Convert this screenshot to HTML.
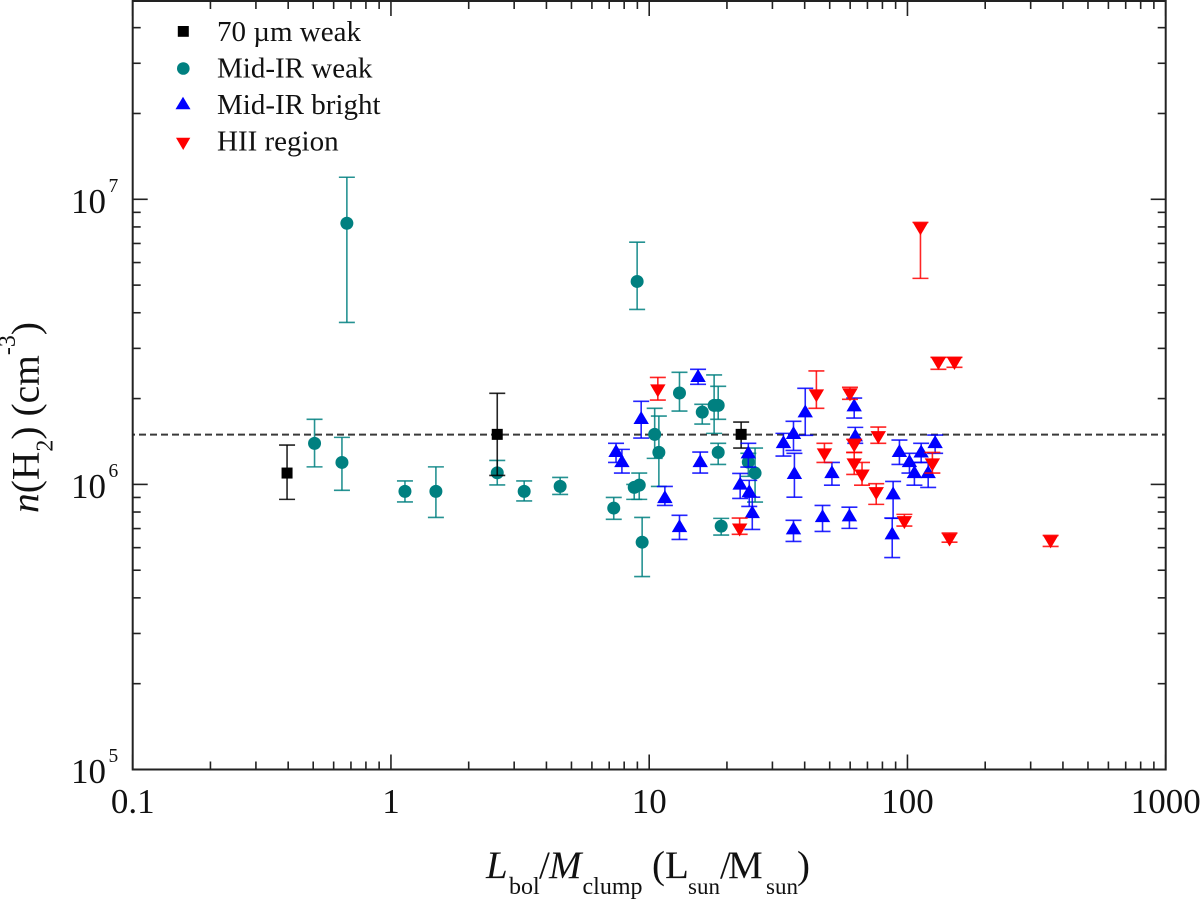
<!DOCTYPE html>
<html lang="en">
<head>
<meta charset="utf-8">
<title>Clump density versus luminosity-to-mass ratio</title>
<style>
  html, body { margin: 0; padding: 0; background: #fff; }
  svg { display: block; filter: blur(0.35px); }
  text { font-family: "Liberation Serif", serif; fill: #111; }
</style>
</head>
<body>
<svg id="chart" xmlns="http://www.w3.org/2000/svg" width="1200" height="899" viewBox="0 0 1200 899">
  <rect x="0" y="0" width="1200" height="899" fill="#fff"/>
  <g id="reference-layer"></g>
  <g id="series-layer"></g>
  <g id="axis-layer"></g>
  <rect x="132.7" y="1" width="1033" height="768.5" fill="none" stroke="#222" stroke-width="2"/>

  <g>
    <g>
      <rect x="177.8" y="26" width="11" height="10.8" fill="#000"/>
      <text x="217" y="41" font-size="29">70 µm weak</text>
    </g>
    <g>
      <circle cx="183.3" cy="68.5" r="6.3" fill="#008080"/>
      <text x="217" y="77.7" font-size="29">Mid-IR weak</text>
    </g>
    <g>
      <polygon points="183,96.7 190.5,109.3 175.5,109.3" fill="#0000ff"/>
      <text x="217" y="114" font-size="29">Mid-IR bright</text>
    </g>
    <g>
      <polygon points="176,137.7 190.3,137.7 183.2,150" fill="#ff0000"/>
      <text x="217" y="150.7" font-size="29">HII region</text>
    </g>
  </g>

  <text y="878" font-size="39"><tspan x="486" font-style="italic">L</tspan><tspan x="509" y="894" font-size="24">bol</tspan><tspan x="539" y="878">/</tspan><tspan x="549" font-style="italic">M</tspan><tspan x="582.5" y="894" font-size="24">clump</tspan><tspan x="652" y="878">(</tspan><tspan x="665">L</tspan><tspan x="688" y="894" font-size="23">sun</tspan><tspan x="720" y="878">/</tspan><tspan x="728">M</tspan><tspan x="766" y="894" font-size="23">sun</tspan><tspan x="797" y="878">)</tspan></text>

  <text transform="translate(38.5 513) rotate(-90)" x="0" y="0" font-size="39.5"><tspan font-style="italic">n</tspan>(H<tspan font-size="24" dy="14">2</tspan><tspan dy="-14">) (cm</tspan><tspan font-size="24" dy="-23.5">-3</tspan><tspan dy="23.5">)</tspan></text>
</svg>

<script>
// Axis definitions
const xMajorTicks = [0.1, 1, 10, 100, 1000];
const xTickLabels = ['0.1', '1', '10', '100', '1000'];
const yMajorExponents = [5, 6, 7];
const referenceDensity = 1.5; // 10^6 cm^-3

// 70 um weak: L/M, n(H2) in 10^6 cm^-3, lower and upper error-bar ends
const weak70X = [0.396, 2.58, 22.7];
const weak70Y = [1.096, 1.498, 1.498];
const weak70Low = [0.886, 1.075, 1.341];
const weak70High = [1.374, 2.087, 1.654];

// Mid-IR weak
const midWeakX = [0.506, 0.646, 0.675, 1.133, 1.493, 2.58, 3.28, 4.52, 7.29, 8.75, 9.15, 8.98, 9.39, 10.5, 10.9, 13.1, 16.05, 17.84, 18.5, 18.5, 19.0, 24.2, 25.7];
const midWeakY = [1.393, 1.194, 8.24, 0.945, 0.945, 1.098, 0.945, 0.984, 0.826, 0.976, 0.994, 5.15, 0.627, 1.498, 1.295, 2.092, 1.793, 1.893, 1.893, 1.295, 0.714, 1.197, 1.096];
const midWeakLow = [1.152, 0.953, 3.70, 0.868, 0.766, 0.996, 0.875, 0.922, 0.754, 0.886, 0.886, 4.11, 0.475, 1.234, 0.984, 1.808, 1.628, 1.510, 1.691, 1.175, 0.664, 1.067, 0.867];
const midWeakHigh = [1.691, 1.462, 11.95, 1.028, 1.152, 1.214, 1.028, 1.058, 0.900, 1.000, 1.096, 7.07, 0.766, 1.849, 1.736, 2.472, 1.909, 2.42, 2.208, 1.393, 0.760, 1.285, 1.341];

// Mid-IR bright
const midBrightX = [9.31, 7.44, 7.84, 11.5, 13.1, 15.46, 15.76, 24.2, 22.5, 24.4, 25.07, 33.1, 36.2, 36.5, 36.2, 40.2, 46.9, 51.0, 59.6, 62.2, 62.8, 88.0, 87.3, 93.1, 101.8, 106.4, 113, 120.3, 128];
const midBrightY = [1.709, 1.309, 1.207, 0.902, 0.714, 2.40, 1.207, 1.295, 1.006, 0.947, 0.799, 1.407, 1.514, 1.096, 0.701, 1.803, 0.774, 1.104, 0.779, 1.893, 1.486, 0.930, 0.673, 1.309, 1.207, 1.104, 1.305, 1.104, 1.407];
const midBrightLow = [1.454, 1.194, 1.096, 0.844, 0.641, 2.244, 1.096, 1.150, 0.893, 0.837, 0.695, 1.257, 1.316, 0.902, 0.631, 1.486, 0.684, 0.994, 0.701, 1.709, 1.393, 0.760, 0.554, 1.175, 1.096, 0.994, 1.194, 0.976, 1.285];
const midBrightHigh = [1.956, 1.393, 1.327, 0.984, 0.779, 2.534, 1.298, 1.393, 1.093, 1.033, 0.902, 1.510, 1.664, 1.285, 0.748, 2.172, 0.844, 1.194, 0.832, 2.009, 1.585, 1.024, 0.762, 1.431, 1.285, 1.194, 1.393, 1.194, 1.489];

// HII region
const hiiX = [10.8, 22.4, 44.4, 59.9, 47.7, 62.2, 62.2, 66.7, 77.1, 75.7, 97.3, 124.9, 131.8, 152.1, 145.5, 112.3, 358.4];
const hiiY = [2.138, 0.695, 2.053, 2.070, 1.274, 1.370, 1.175, 1.075, 1.465, 0.932, 0.737, 1.175, 2.666, 2.666, 0.641, 7.91, 0.631];
const hiiLow = [1.976, 0.668, 1.849, 1.988, 1.194, 1.295, 1.084, 0.994, 1.393, 0.851, 0.714, 1.096, 2.534, 2.575, 0.627, 5.28, 0.606];
const hiiHigh = [2.372, 0.762, 2.500, 2.190, 1.393, 1.439, 1.295, 1.194, 1.589, 1.006, 0.785, 1.295, 2.79, 2.79, 0.675, 8.30, 0.662];

const SVG_NS = 'http://www.w3.org/2000/svg';
const PLOT_LEFT = 132.7;
const PLOT_RIGHT = 1165.7;
const PLOT_BOTTOM = 769.5;
const PLOT_TOP = 1;
const X_DECADE = 258.25;
const Y_DECADE = 285.1;

// Axis functions: x in L/M units, y in 10^6 cm^-3
function xScale(v) {
  return PLOT_LEFT + (Math.log10(v) + 1) * X_DECADE;
}
function yScale(v) {
  return PLOT_BOTTOM - (Math.log10(v) + 1) * Y_DECADE;
}

const axisLayer = document.getElementById('axis-layer');
const seriesLayer = document.getElementById('series-layer');
const referenceLayer = document.getElementById('reference-layer');

function addLine(parent, x1, y1, x2, y2, stroke, width) {
  const el = document.createElementNS(SVG_NS, 'line');
  el.setAttribute('x1', x1);
  el.setAttribute('y1', y1);
  el.setAttribute('x2', x2);
  el.setAttribute('y2', y2);
  el.setAttribute('stroke', stroke);
  el.setAttribute('stroke-width', width);
  parent.appendChild(el);
  return el;
}

// X ticks (bottom and top, pointing inward)
for (let decade = 0; decade < xMajorTicks.length; decade++) {
  const base = xMajorTicks[decade];
  for (let m = 1; m <= 9; m++) {
    if (decade === xMajorTicks.length - 1 && m > 1) break;
    const px = xScale(base * m);
    const len = m === 1 ? 15 : 8;
    const bottomTick = addLine(axisLayer, px, PLOT_BOTTOM, px, PLOT_BOTTOM - len, '#222', 1.6);
    
    
    const topTick = addLine(axisLayer, px, PLOT_TOP, px, PLOT_TOP + len, '#222', 1.6);
    
    
  }
  const label = document.createElementNS(SVG_NS, 'text');
  
  
  label.setAttribute('x', xScale(base));
  label.setAttribute('y', 813);
  label.setAttribute('font-size', '35');
  label.setAttribute('text-anchor', 'middle');
  label.textContent = xTickLabels[decade];
  axisLayer.appendChild(label);
}

// Y ticks (left and right, pointing inward); range 1e5 to 5e7
for (let i = 0; i < yMajorExponents.length; i++) {
  const exponent = yMajorExponents[i];
  const unit = Math.pow(10, exponent - 6);
  for (let m = 1; m <= 9; m++) {
    const value = unit * m;
    if (value > 50) break;
    const py = yScale(value);
    const len = m === 1 ? 15 : 8;
    const leftTick = addLine(axisLayer, PLOT_LEFT, py, PLOT_LEFT + len, py, '#222', 1.6);
    
    
    const rightTick = addLine(axisLayer, PLOT_RIGHT, py, PLOT_RIGHT - len, py, '#222', 1.6);
    
    
  }
  const py = yScale(unit);
  const label = document.createElementNS(SVG_NS, 'text');
  
  
  label.setAttribute('x', 71);
  label.setAttribute('y', py + 13.7);
  label.setAttribute('font-size', '35');
  const mantissa = document.createElementNS(SVG_NS, 'tspan');
  mantissa.textContent = '10';
  label.appendChild(mantissa);
  const power = document.createElementNS(SVG_NS, 'tspan');
  power.setAttribute('font-size', '19.5');
  power.setAttribute('dy', '-21');
  power.setAttribute('dx', '2.5');
  power.textContent = String(exponent);
  label.appendChild(power);
  axisLayer.appendChild(label);
}

// Dashed reference line
const refLine = addLine(referenceLayer, PLOT_LEFT, yScale(referenceDensity) + 0.4, PLOT_RIGHT, yScale(referenceDensity) + 0.4, '#3a3a3a', 2);
refLine.setAttribute('stroke-dasharray', '7 4');
refLine.setAttribute('stroke-dashoffset', '-6.3');



function drawSeries(name, color, shape, xs, ys, lows, highs) {
  const group = document.createElementNS(SVG_NS, 'g');
  
  
  seriesLayer.appendChild(group);
  for (let i = 0; i < xs.length; i++) {
    const px = xScale(xs[i]);
    const py = yScale(ys[i]);
    const pLow = yScale(lows[i]);
    const pHigh = yScale(highs[i]);
    const stem = addLine(group, px, pLow, px, pHigh, color, 1.6);
    stem.setAttribute('opacity', '0.85');
    
    
    const capLow = addLine(group, px - 8, pLow, px + 8, pLow, color, 1.6);
    capLow.setAttribute('opacity', '0.85');
    
    
    const capHigh = addLine(group, px - 8, pHigh, px + 8, pHigh, color, 1.6);
    capHigh.setAttribute('opacity', '0.85');
    
    
    let mark;
    if (shape === 'square') {
      mark = document.createElementNS(SVG_NS, 'rect');
      mark.setAttribute('x', px - 5.5);
      mark.setAttribute('y', py - 5.5);
      mark.setAttribute('width', 11);
      mark.setAttribute('height', 11);
    } else if (shape === 'circle') {
      mark = document.createElementNS(SVG_NS, 'circle');
      mark.setAttribute('cx', px);
      mark.setAttribute('cy', py);
      mark.setAttribute('r', 6.5);
    } else if (shape === 'up') {
      mark = document.createElementNS(SVG_NS, 'polygon');
      mark.setAttribute('points', (px) + ',' + (py - 7) + ' ' + (px + 7.7) + ',' + (py + 6) + ' ' + (px - 7.7) + ',' + (py + 6));
    } else {
      mark = document.createElementNS(SVG_NS, 'polygon');
      mark.setAttribute('points', (px - 7.7) + ',' + (py - 6) + ' ' + (px + 7.7) + ',' + (py - 6) + ' ' + (px) + ',' + (py + 7));
    }
    mark.setAttribute('fill', color);
    
    
    group.appendChild(mark);
  }
}

drawSeries('mid-ir-weak', '#008080', 'circle', midWeakX, midWeakY, midWeakLow, midWeakHigh);
drawSeries('70um-weak', '#000000', 'square', weak70X, weak70Y, weak70Low, weak70High);
drawSeries('mid-ir-bright', '#0000ff', 'up', midBrightX, midBrightY, midBrightLow, midBrightHigh);
drawSeries('hii-region', '#ff0000', 'down', hiiX, hiiY, hiiLow, hiiHigh);
</script>
</body>
</html>
